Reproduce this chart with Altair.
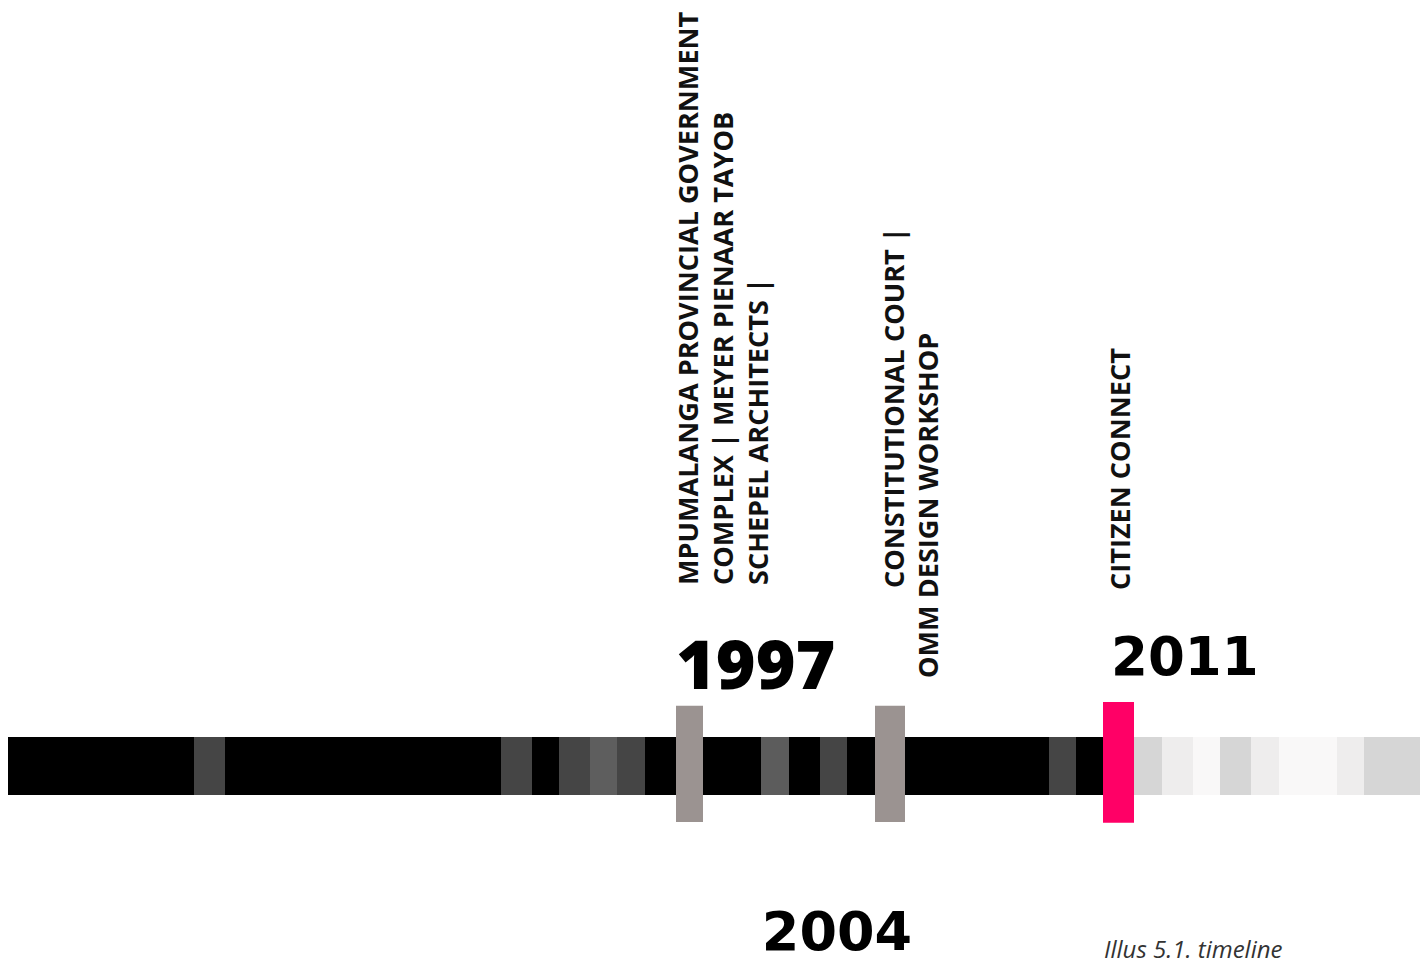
import altair as alt
import pandas as pd

# ---------------- data ----------------
# timeline band: segment boundaries (position along the timeline) and shade
seg_start = [0, 194, 225, 501, 532, 559, 590, 617, 645, 761, 789, 820, 847,
             1049, 1076, 1134, 1162, 1193, 1220, 1251, 1279, 1337, 1364]
seg_end = [194, 225, 501, 532, 559, 590, 617, 645, 761, 789, 820, 847, 1049,
           1076, 1134, 1162, 1193, 1220, 1251, 1279, 1337, 1364, 1422]
seg_shade = ["#000000", "#454545", "#000000", "#454545", "#000000", "#454545",
             "#5e5e5e", "#454545", "#000000", "#5c5c5c", "#000000", "#454545",
             "#000000", "#454545", "#000000", "#d6d6d6", "#eeeded", "#f9f8f8",
             "#d6d6d6", "#eeeded", "#f9f8f8", "#eeeded", "#d6d6d6"]

# highlighted events
event_year = ["1997", "2004", "2011"]
event_start = [676, 875, 1103]
event_end = [703, 905, 1134]
event_color = ["#9b9391", "#9b9391", "#ff0066"]
event_lines = [
    ["MPUMALANGA PROVINCIAL GOVERNMENT", "COMPLEX | MEYER PIENAAR TAYOB", "SCHEPEL ARCHITECTS |"],
    ["CONSTITUTIONAL COURT |", "OMM DESIGN WORKSHOP"],
    ["CITIZEN CONNECT"],
]
caption = "Illus 5.1. timeline"

# ---------------- layout ----------------
W, H = 1412, 957
PX = 29.0  # pixels per vertical level unit
CENTER = 766
def lvl(py):
    return (CENTER - py) / PX

xscale = alt.Scale(domain=[8, 8 + W], nice=False, zero=False)
yscale = alt.Scale(domain=[lvl(8 + H), lvl(8)], nice=False, zero=False)

band = pd.DataFrame({"start": seg_start, "end": seg_end, "shade": seg_shade})
band["top"] = 1.0
band["bottom"] = -1.0

ev = pd.DataFrame({"year": event_year, "start": event_start, "end": event_end,
                   "color": event_color})
ev["top"] = [lvl(705.7), lvl(705.7), lvl(702)]
ev["bottom"] = [lvl(822), lvl(822), lvl(822.7)]

# label line anchors relative to event start
line_dx = [[22, 57, 92], [29, 63], [27]]
line_py = [[585, 585, 585], [588, 678], [590]]
rows = []
for i, lines in enumerate(event_lines):
    for j, t in enumerate(lines):
        rows.append({"x": event_start[i] + line_dx[i][j], "y": lvl(line_py[i][j]), "text": t})
labels = pd.DataFrame(rows)

def X(f):
    return alt.X(f"{f}:Q", scale=xscale, axis=None)

def Y(f):
    return alt.Y(f"{f}:Q", scale=yscale, axis=None)

band_layer = alt.Chart(band).mark_bar(clip=True).encode(
    x=X("start"), x2="end", y=Y("top"), y2="bottom",
    color=alt.Color("shade:N", scale=None),
)

event_layer = alt.Chart(ev).mark_bar().encode(
    x=X("start"), x2="end", y=Y("top"), y2="bottom",
    color=alt.Color("color:N", scale=None),
)

label_layer = alt.Chart(labels).mark_text(
    angle=270, align="left", baseline="alphabetic",
    font="Open Sans", fontSize=27.1, fontWeight="bold", color="#111111",
).encode(x=X("x"), y=Y("y"), text="text:N")

def year_text(idx, dx, py, font, size, align, weight="bold"):
    d = pd.DataFrame({"x": [event_start[idx] + dx], "y": [lvl(py)], "text": [event_year[idx]]})
    return alt.Chart(d).mark_text(
        align=align, baseline="alphabetic", font=font, fontSize=size,
        fontWeight=weight, color="#000000",
    ).encode(x=X("x"), y=Y("y"), text="text:N")

y1997 = year_text(0, 0, 689, "Open Sans", 68, "left", 800)
y2004 = year_text(1, -38, 950, "DejaVu Sans", 54, "center")
y2011 = year_text(2, 8, 675, "DejaVu Sans", 53, "left")

cap_df = pd.DataFrame({"x": [event_start[2] + 1], "y": [lvl(958)], "text": [caption]})
cap_layer = alt.Chart(cap_df).mark_text(
    align="left", baseline="alphabetic", font="Open Sans", fontSize=24,
    fontStyle="italic", color="#333333",
).encode(x=X("x"), y=Y("y"), text="text:N")

chart = alt.layer(
    band_layer, event_layer, label_layer, y1997, y2004, y2011, cap_layer
).properties(
    width=W, height=H, autosize=alt.AutoSizeParams(type="none"), padding=0,
    background="white",
).configure_view(stroke=None)

chart.save("out.html", embed_options={"renderer": "svg", "actions": False})
